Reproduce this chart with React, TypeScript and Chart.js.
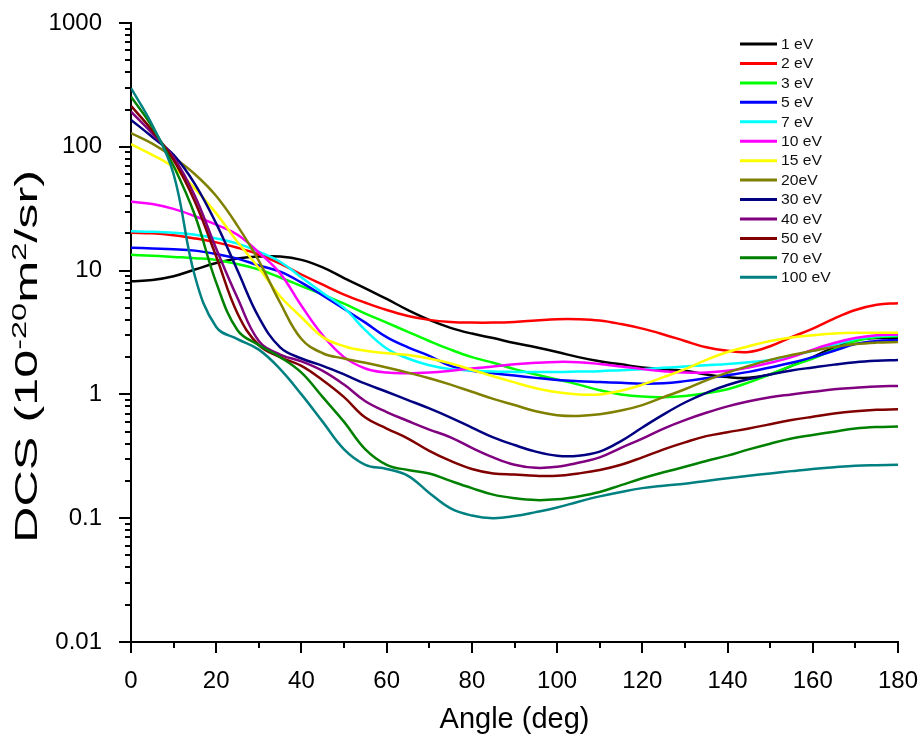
import React, { useEffect, useRef } from "react";
import { Chart, registerables } from "chart.js";

Chart.register(...registerables);

// Scattering angle grid (deg)
const ANGLES = [0, 5, 10, 15, 20, 25, 30, 35, 40, 45, 50, 55, 60, 65, 70, 75, 80, 85, 90, 95, 100, 105, 110, 115, 120, 125, 130, 135, 140, 145, 150, 155, 160, 165, 170, 175, 180];

// DCS values (10^-20 m^2/sr) for each energy
const DCS_1EV = [8.2, 8.4, 9.0, 10.2, 11.5, 12.5, 13.0, 13.0, 12.2, 10.6, 8.7, 7.2, 5.9, 4.8, 4.0, 3.45, 3.1, 2.85, 2.6, 2.4, 2.2, 2.0, 1.85, 1.75, 1.65, 1.6, 1.55, 1.45, 1.38, 1.36, 1.45, 1.7, 2.0, 2.4, 2.75, 2.85, 2.85];
const DCS_2EV = [20.2, 20.0, 19.3, 18.2, 16.9, 15.3, 13.5, 11.4, 9.3, 7.7, 6.4, 5.5, 4.8, 4.3, 4.0, 3.85, 3.8, 3.8, 3.85, 3.95, 4.05, 4.05, 3.95, 3.7, 3.4, 3.05, 2.7, 2.4, 2.25, 2.2, 2.45, 2.9, 3.4, 4.1, 4.8, 5.3, 5.45];
const DCS_3EV = [13.4, 13.2, 12.9, 12.6, 12.2, 11.3, 10.2, 8.8, 7.5, 6.4, 5.4, 4.5, 3.8, 3.2, 2.7, 2.3, 2.0, 1.8, 1.6, 1.45, 1.32, 1.2, 1.08, 1.0, 0.96, 0.95, 0.97, 1.02, 1.1, 1.25, 1.45, 1.7, 1.95, 2.3, 2.7, 2.9, 2.95];
const DCS_5EV = [15.3, 15.1, 14.9, 14.5, 13.6, 12.5, 11.0, 9.8, 8.0, 6.3, 4.9, 3.8, 2.9, 2.4, 2.05, 1.7, 1.55, 1.48, 1.42, 1.36, 1.31, 1.28, 1.26, 1.24, 1.22, 1.23, 1.28, 1.35, 1.43, 1.52, 1.65, 1.8, 2.0, 2.25, 2.55, 2.7, 2.75];
const DCS_7EV = [20.8, 20.6, 20.2, 19.5, 18.2, 16.5, 14.2, 11.8, 8.8, 6.6, 5.0, 3.3, 2.35, 1.95, 1.72, 1.6, 1.56, 1.53, 1.52, 1.52, 1.52, 1.53, 1.54, 1.57, 1.6, 1.64, 1.68, 1.72, 1.76, 1.82, 1.9, 2.05, 2.25, 2.5, 2.8, 2.95, 3.0];
const DCS_10EV = [36, 34.5, 31.5, 27.5, 23.5, 19.5, 14, 9.5, 5.2, 3.0, 2.0, 1.62, 1.5, 1.48, 1.5, 1.55, 1.62, 1.68, 1.75, 1.8, 1.83, 1.82, 1.76, 1.68, 1.6, 1.54, 1.5, 1.5, 1.55, 1.65, 1.8, 2.0, 2.3, 2.6, 2.85, 3.0, 3.05];
const DCS_15EV = [105, 86, 68, 46, 29, 17, 10.5, 6.2, 4.2, 2.9, 2.45, 2.25, 2.15, 2.08, 1.95, 1.78, 1.58, 1.4, 1.25, 1.12, 1.04, 1.0, 1.0, 1.07, 1.2, 1.38, 1.6, 1.9, 2.2, 2.45, 2.7, 2.88, 3.0, 3.1, 3.15, 3.15, 3.15];
const DCS_20EV = [129, 106, 82, 60, 40, 23, 12, 5.5, 2.8, 2.15, 1.95, 1.8, 1.65, 1.5, 1.35, 1.2, 1.05, 0.92, 0.82, 0.73, 0.68, 0.67, 0.69, 0.74, 0.82, 0.95, 1.1, 1.3, 1.5, 1.7, 1.9, 2.08, 2.25, 2.42, 2.55, 2.62, 2.65];
const DCS_30EV = [165, 120, 86, 50, 24, 10, 4.2, 2.4, 1.95, 1.7, 1.45, 1.22, 1.05, 0.9, 0.77, 0.65, 0.54, 0.45, 0.39, 0.345, 0.32, 0.32, 0.345, 0.42, 0.54, 0.69, 0.86, 1.03, 1.19, 1.33, 1.45, 1.56, 1.65, 1.74, 1.82, 1.87, 1.9];
const DCS_40EV = [192, 128, 82, 40, 15, 6, 2.7, 2.1, 1.85, 1.55, 1.2, 0.88, 0.72, 0.61, 0.52, 0.45, 0.37, 0.31, 0.27, 0.255, 0.26, 0.28, 0.31, 0.37, 0.44, 0.53, 0.62, 0.71, 0.8, 0.88, 0.95, 1.0, 1.05, 1.1, 1.13, 1.16, 1.17];
const DCS_50EV = [214, 135, 78, 36, 13, 4.5, 2.5, 2.0, 1.7, 1.3, 0.95, 0.65, 0.53, 0.44, 0.35, 0.29, 0.25, 0.23, 0.225, 0.22, 0.22, 0.23, 0.245, 0.27, 0.31, 0.36, 0.41, 0.46, 0.495, 0.53, 0.575, 0.62, 0.66, 0.7, 0.73, 0.75, 0.76];
const DCS_70EV = [254, 145, 70, 28, 8, 3.3, 2.5, 2.0, 1.5, 0.95, 0.6, 0.36, 0.27, 0.245, 0.23, 0.2, 0.175, 0.155, 0.145, 0.14, 0.142, 0.15, 0.163, 0.185, 0.21, 0.235, 0.26, 0.29, 0.32, 0.36, 0.4, 0.44, 0.47, 0.5, 0.53, 0.545, 0.55];
const DCS_100EV = [298, 150, 60, 9, 3.5, 2.8, 2.3, 1.6, 1.0, 0.6, 0.36, 0.27, 0.25, 0.22, 0.16, 0.12, 0.105, 0.1, 0.104, 0.112, 0.122, 0.136, 0.15, 0.163, 0.175, 0.183, 0.19, 0.2, 0.21, 0.22, 0.23, 0.24, 0.25, 0.258, 0.265, 0.268, 0.27];

const SERIES_VALUES = [DCS_1EV, DCS_2EV, DCS_3EV, DCS_5EV, DCS_7EV, DCS_10EV, DCS_15EV, DCS_20EV, DCS_30EV, DCS_40EV, DCS_50EV, DCS_70EV, DCS_100EV];
const SERIES_LABELS = ["1 eV", "2 eV", "3 eV", "5 eV", "7 eV", "10 eV", "15 eV", "20eV", "30 eV", "40 eV", "50 eV", "70 eV", "100 eV"];
const SERIES_COLORS = ["#000000", "#ff0000", "#00ff00", "#0000ff", "#00ffff", "#ff00ff", "#ffff00", "#808000", "#000080", "#800080", "#800000", "#008000", "#008080"];

const Y_TICK_LABELS = ["0.01", "0.1", "1", "10", "100", "1000"];
const X_TITLE = "Angle (deg)";
const FONT = '"Liberation Sans", Arial, sans-serif';

const decorPlugin = {
  id: "decor",
  afterDraw(chart: any) {
    const ctx = chart.ctx as CanvasRenderingContext2D;
    const xs = chart.scales.x;
    const ys = chart.scales.y;
    const area = chart.chartArea;
    ctx.save();
    ctx.strokeStyle = "#000";
    ctx.lineWidth = 2;
    // y tick marks (major + minor)
    for (let e = -2; e <= 3; e++) {
      for (let m = 1; m <= 9; m++) {
        const v = m * Math.pow(10, e);
        if (v > 1000.0001) break;
        const py = Math.round(ys.getPixelForValue(v));
        const len = m === 1 ? 12 : 6;
        ctx.beginPath();
        ctx.moveTo(area.left - len, py);
        ctx.lineTo(area.left, py);
        ctx.stroke();
      }
    }
    // x tick marks
    for (let v = 0; v <= 180; v += 10) {
      const px = Math.round(xs.getPixelForValue(v));
      const len = v % 20 === 0 ? 11 : 6;
      ctx.beginPath();
      ctx.moveTo(px, area.bottom);
      ctx.lineTo(px, area.bottom + len);
      ctx.stroke();
    }
    // x title
    ctx.fillStyle = "#000";
    ctx.font = `29px ${FONT}`;
    ctx.textAlign = "center";
    ctx.textBaseline = "alphabetic";
    ctx.fillText(X_TITLE, (area.left + area.right) / 2, 728);

    // y title with superscripts
    const parts = [
      { t: "DCS (10", sup: false },
      { t: "-20", sup: true },
      { t: "m", sup: false },
      { t: "2", sup: true },
      { t: "/sr)", sup: false },
    ];
    const baseFont = `31px ${FONT}`;
    const supFont = `20px ${FONT}`;
    let total = 0;
    const widths = parts.map((p) => {
      ctx.font = p.sup ? supFont : baseFont;
      const w = ctx.measureText(p.t).width;
      total += w;
      return w;
    });
    const stretch = 373 / total;
    ctx.save();
    ctx.translate(37, 356.5);
    ctx.rotate(-Math.PI / 2);
    ctx.scale(stretch, 1);
    ctx.textAlign = "left";
    let cx = -total / 2;
    parts.forEach((p, i) => {
      ctx.font = p.sup ? supFont : baseFont;
      ctx.fillText(p.t, cx, p.sup ? -11 : 0);
      cx += widths[i];
    });
    ctx.restore();

    // legend
    const datasets = chart.data.datasets;
    ctx.font = `14px ${FONT}`;
    ctx.textAlign = "left";
    ctx.textBaseline = "middle";
    datasets.forEach((ds: any, i: number) => {
      const y = 44 + i * 19.44;
      ctx.strokeStyle = ds.borderColor;
      ctx.lineWidth = 3;
      ctx.beginPath();
      ctx.moveTo(740, y);
      ctx.lineTo(777, y);
      ctx.stroke();
      ctx.fillStyle = "#111";
      ctx.save();
      ctx.translate(781, y + 1);
      ctx.scale(1.12, 1);
      ctx.fillText(ds.label, 0, 0);
      ctx.restore();
    });
    ctx.restore();
  },
};

export default function App() {
  const ref = useRef<HTMLCanvasElement>(null);
  useEffect(() => {
    if (!ref.current) return;
    const datasets = SERIES_VALUES.map((vals, i) => ({
      label: SERIES_LABELS[i],
      data: ANGLES.map((a, j) => ({ x: a, y: vals[j] })),
      borderColor: SERIES_COLORS[i],
      backgroundColor: SERIES_COLORS[i],
      borderWidth: 2.5,
      pointRadius: 0,
      fill: false,
      tension: 0.4,
      order: -i,
    }));
    const chart = new Chart(ref.current, {
      type: "line",
      data: { datasets },
      options: {
        animation: false,
        responsive: false,
        maintainAspectRatio: false,
        layout: { padding: { top: 23, right: 23, left: 0, bottom: 0 } },
        plugins: { legend: { display: false }, tooltip: { enabled: false }, title: { display: false } },
        scales: {
          x: {
            type: "linear",
            min: 0,
            max: 180,
            grid: { display: false },
            border: { display: true, color: "#000", width: 2 },
            ticks: {
              stepSize: 20,
              color: "#000",
              font: { family: FONT, size: 24 },
              padding: 17,
              maxRotation: 0,
              autoSkip: false,
            },
            afterFit: (scale: any) => {
              scale.height = 95;
              scale.paddingLeft = 0;
              scale.paddingRight = 0;
              scale.paddingTop = 0;
              scale.paddingBottom = 0;
            },
          },
          y: {
            type: "logarithmic",
            min: 0.01,
            max: 1000,
            grid: { display: false },
            border: { display: true, color: "#000", width: 2 },
            ticks: {
              color: "#000",
              font: { family: FONT, size: 24 },
              padding: 21,
              autoSkip: false,
              callback: (value: any) => {
                const l = Math.log10(Number(value));
                if (Math.abs(l - Math.round(l)) < 1e-6) {
                  return Y_TICK_LABELS[Math.round(l) + 2] ?? "";
                }
                return "";
              },
            },
            afterFit: (scale: any) => {
              scale.width = 131;
              scale.paddingLeft = 0;
              scale.paddingRight = 0;
              scale.paddingTop = 0;
              scale.paddingBottom = 0;
            },
          },
        },
      },
      plugins: [decorPlugin],
    });
    return () => chart.destroy();
  }, []);
  return (
    <div style={{ position: "absolute", left: 0, top: 0, width: 921, height: 737, background: "#fff" }}>
      <canvas ref={ref} width={921} height={737} style={{ display: "block", width: 921, height: 737 }} />
    </div>
  );
}
